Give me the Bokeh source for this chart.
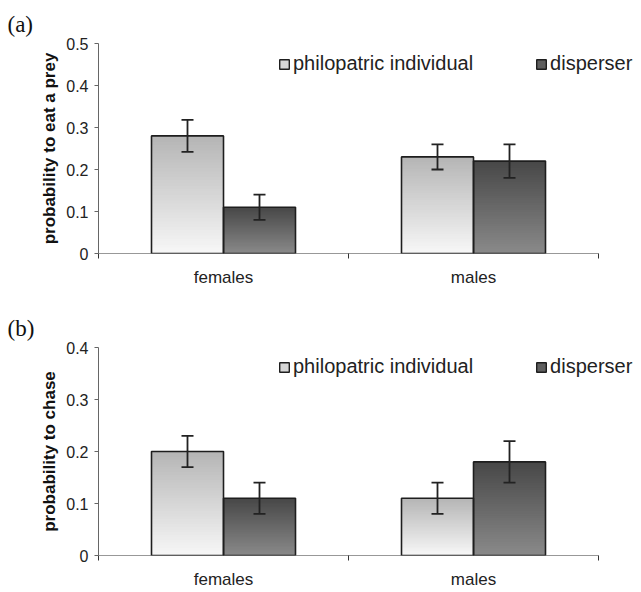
import numpy as np
from bokeh.plotting import figure
from bokeh.layouts import column
from bokeh.models import FixedTicker, Legend, LegendItem, Title, Range1d, ColumnDataSource
from bokeh.embed import file_html
from bokeh.resources import INLINE

categories = ["females", "males"]
series_names = ["philopatric individual", "disperser"]

eat_philo = [0.28, 0.23]
eat_philo_err = [0.038, 0.03]
eat_disp = [0.11, 0.22]
eat_disp_err = [0.03, 0.04]

chase_philo = [0.20, 0.11]
chase_philo_err = [0.03, 0.03]
chase_disp = [0.11, 0.18]
chase_disp_err = [0.03, 0.04]

eat_ticks = [0, 0.1, 0.2, 0.3, 0.4, 0.5]
eat_tick_labels = ["0", "0.1", "0.2", "0.3", "0.4", "0.5"]
chase_ticks = [0, 0.1, 0.2, 0.3, 0.4]
chase_tick_labels = ["0", "0.1", "0.2", "0.3", "0.4"]

FONT = "Liberation Sans"
BAR_W = 0.288
CAP_W = 0.048
NSLICE = 40
FIG_W = 640
BORDER_L = 98
CAT_PX = 250  # pixels per category


def hexmix(c0, c1, t):
    a = np.array([int(c0[i:i + 2], 16) for i in (1, 3, 5)], dtype=float)
    b = np.array([int(c1[i:i + 2], 16) for i in (1, 3, 5)], dtype=float)
    c = a + (b - a) * t
    return "#%02x%02x%02x" % tuple(int(round(v)) for v in c)


def gradient_bars(p, lefts, values, bottom_col, top_col):
    L, R, B, T, C = [], [], [], [], []
    for k in range(NSLICE):
        for left, v in zip(lefts, values):
            L.append(left)
            R.append(left + BAR_W)
            B.append(v * k / NSLICE)
            T.append(v)
            C.append(hexmix(bottom_col, top_col, (k + 0.5) / NSLICE))
    src = ColumnDataSource(dict(left=L, right=R, bottom=B, top=T, color=C))
    p.quad(left="left", right="right", bottom="bottom", top="top", source=src,
           fill_color="color", line_color=None)


def make_panel(tag, ylabel, ymax, ticks, tick_labels, philo, philo_err, disp, disp_err,
               height, top_border, bottom_border, legend_y, xlabel_standoff):
    ncat = len(categories)
    x_end = (FIG_W - BORDER_L) / CAT_PX
    p = figure(width=FIG_W, height=height, output_backend="svg", toolbar_location=None,
               x_range=Range1d(0, x_end), y_range=Range1d(0, ymax),
               min_border_left=BORDER_L, min_border_right=0, min_border_top=top_border,
               min_border_bottom=bottom_border)
    p.grid.visible = False
    p.outline_line_color = None
    p.background_fill_color = "white"

    centers = np.arange(ncat) + 0.5
    philo_left = centers - BAR_W
    disp_left = centers

    gradient_bars(p, philo_left, philo, "#f7f7f7", "#b5b5b5")
    gradient_bars(p, disp_left, disp, "#8a8a8a", "#474747")

    # outlines
    p.quad(left=philo_left, right=philo_left + BAR_W, bottom=0, top=philo,
           fill_alpha=0, line_color="#1e1e1e", line_width=1.6)
    p.quad(left=disp_left, right=disp_left + BAR_W, bottom=0, top=disp,
           fill_alpha=0, line_color="#1e1e1e", line_width=1.6)

    # baseline (category axis line)
    p.segment(x0=[0], x1=[ncat], y0=[0], y1=[0], line_color="#333333", line_width=1.2)

    # legend renderers (nothing drawn)
    r1 = p.quad(left=[np.nan], right=[np.nan], bottom=[np.nan], top=[np.nan],
                fill_color="#d6d6d6", line_color="#1e1e1e", line_width=1.4)
    r2 = p.quad(left=[np.nan], right=[np.nan], bottom=[np.nan], top=[np.nan],
                fill_color="#5f5f5f", line_color="#1e1e1e", line_width=1.4)

    # error bars
    for lefts, vals, errs in ((philo_left, philo, philo_err), (disp_left, disp, disp_err)):
        xc = np.array(lefts) + BAR_W / 2
        v = np.array(vals)
        e = np.array(errs)
        p.segment(x0=xc, x1=xc, y0=v - e, y1=v + e, line_color="#222222", line_width=1.8)
        p.segment(x0=xc - CAP_W / 2, x1=xc + CAP_W / 2, y0=v + e, y1=v + e,
                  line_color="#222222", line_width=1.8)
        p.segment(x0=xc - CAP_W / 2, x1=xc + CAP_W / 2, y0=v - e, y1=v - e,
                  line_color="#222222", line_width=1.8)

    # y axis
    ya = p.yaxis[0]
    ya.ticker = FixedTicker(ticks=ticks)
    ya.major_label_overrides = {t: l for t, l in zip(ticks, tick_labels)}
    ya.axis_label = ylabel
    ya.axis_label_text_font = FONT
    ya.axis_label_text_font_style = "bold"
    ya.axis_label_text_font_size = "17px"
    ya.axis_label_text_color = "#111111"
    ya.axis_label_standoff = 4
    ya.major_label_text_font = FONT
    ya.major_label_text_font_size = "16px"
    ya.major_label_text_color = "#222222"
    ya.major_label_standoff = 6
    ya.major_tick_out = 4
    ya.major_tick_in = 0
    ya.minor_tick_line_color = None
    ya.axis_line_color = "#666666"
    ya.major_tick_line_color = "#666666"

    # x axis
    xa = p.xaxis[0]
    xa.ticker = FixedTicker(ticks=list(centers), minor_ticks=list(range(ncat + 1)))
    xa.major_label_overrides = {float(c): n for c, n in zip(centers, categories)}
    xa.major_label_text_font = FONT
    xa.major_label_text_font_size = "17px"
    xa.major_label_text_color = "#222222"
    xa.major_label_standoff = xlabel_standoff
    xa.major_tick_out = 0
    xa.major_tick_in = 0
    xa.major_tick_line_color = None
    xa.minor_tick_out = 5
    xa.minor_tick_in = 0
    xa.minor_tick_line_color = "#333333"
    xa.axis_line_color = None

    legend = Legend(items=[LegendItem(label=series_names[0], renderers=[r1]),
                           LegendItem(label=series_names[1], renderers=[r2])],
                    location=(180, legend_y), orientation="horizontal",
                    padding=0, margin=0, spacing=62, label_standoff=3,
                    glyph_width=12, glyph_height=12,
                    label_text_font=FONT, label_text_font_size="20px",
                    label_text_color="#222222",
                    border_line_color=None, background_fill_alpha=0)
    p.add_layout(legend)

    t = Title(text=tag, align="left", offset=-91, text_font="Liberation Serif",
              text_font_size="23px", text_font_style="normal", text_color="#111111",
              standoff=14)
    p.add_layout(t, "above")
    return p


pa = make_panel("(a)", "probability to eat a prey", 0.5, eat_ticks, eat_tick_labels,
                eat_philo, eat_philo_err, eat_disp, eat_disp_err,
                height=290, top_border=43, bottom_border=37, legend_y=178, xlabel_standoff=9)
pb = make_panel("(b)", "probability to chase", 0.4, chase_ticks, chase_tick_labels,
                chase_philo, chase_philo_err, chase_disp, chase_disp_err,
                height=302, top_border=57, bottom_border=37, legend_y=177, xlabel_standoff=9)

layout = column(pa, pb, spacing=0)
open("out.html", "w").write(file_html(layout, INLINE))
